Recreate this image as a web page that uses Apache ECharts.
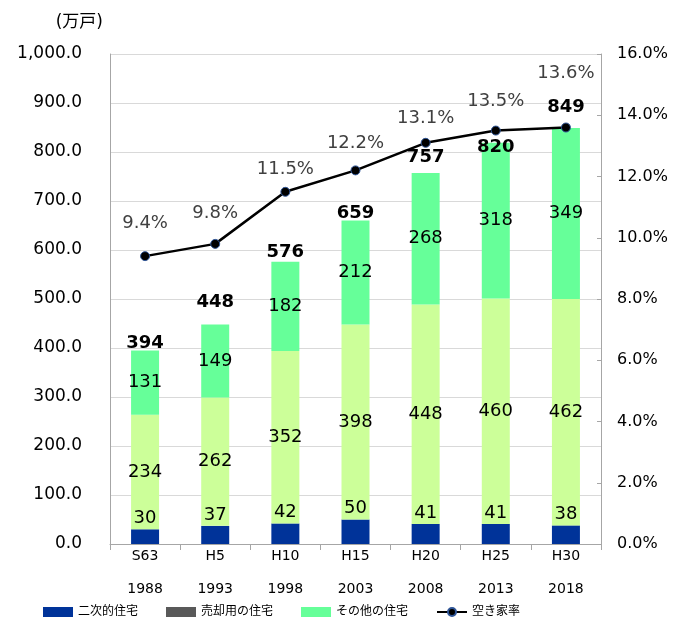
<!DOCTYPE html>
<html>
<head>
<meta charset="utf-8">
<script src="https://cdn.jsdelivr.net/npm/echarts@6/dist/echarts.min.js"></script>
<style>
  html, body { margin: 0; padding: 0; background: #fff; }
  #chart { width: 679px; height: 617px; }
</style>
</head>
<body>
<div id="chart"></div>
<script>
// 年次（和暦 / 西暦）
const eraLabels = ["S63", "H5", "H10", "H15", "H20", "H25", "H30"];
const yearLabels = ["1988", "1993", "1998", "2003", "2008", "2013", "2018"];

// 空き家の内訳（万戸）
const secondHomes = [30, 37, 42, 50, 41, 41, 38];
const rentalHomes = [234, 262, 352, 398, 448, 460, 462];
const saleHomes = [];
const otherHomes = [131, 149, 182, 212, 268, 318, 349];
const totals = [394, 448, 576, 659, 757, 820, 849];

// 空き家率（%）
const vacancyRate = [9.4, 9.8, 11.5, 12.2, 13.1, 13.5, 13.6];

// 軸目盛
const leftTicks = [0, 1000, 100];
const rightTicks = [0, 16, 2];

// ラベル位置の調整（px）
const totalLabelDy = [-8, -22, -9, -8, -16, 5, -21];
const rateLabelDy = [-33, -31, -22, -27, -24, -29, -54];

const FONT = "'DejaVu Sans', 'Noto Sans CJK JP', sans-serif";

const chart = echarts.init(document.getElementById("chart"));

chart.setOption({
    animation: false,
    textStyle: { fontFamily: FONT },
    grid: {
        left: 110,
        right: 78,
        top: 54,
        bottom: 73,
    },
    legend: {
        left: 43,
        top: 606,
        padding: 0,
        itemWidth: 30,
        itemHeight: 10,
        itemGap: 28,
        textStyle: { fontSize: 12, color: "#000", fontFamily: FONT },
        data: [
            { name: "二次的住宅", icon: "rect" },
            { name: "売却用の住宅", icon: "rect" },
            { name: "その他の住宅", icon: "rect" },
            { name: "空き家率" },
        ],
    },
    xAxis: {
        type: "category",
        data: eraLabels,
        axisLine: { lineStyle: { color: "#a6a6a6", width: 1 } },
        axisTick: { show: true, length: 6, lineStyle: { color: "#a6a6a6" } },
        axisLabel: {
            margin: -4,
            fontSize: 14,
            lineHeight: 33,
            color: "#000",
            formatter: function (value, idx) {
                return value + "\n" + yearLabels[idx];
            },
        },
    },
    yAxis: [
        {
            type: "value",
            min: leftTicks[0],
            max: leftTicks[1],
            interval: leftTicks[2],
            name: "(万戸)",
            nameLocation: "end",
            nameGap: 23,
            nameTextStyle: {
                fontSize: 17,
                color: "#000",
                align: "right",
                padding: [0, 7, 0, 0],
            },
            axisLine: { show: true, lineStyle: { color: "#a6a6a6" } },
            axisTick: { show: false },
            splitLine: { lineStyle: { color: "#d9d9d9", width: 1 } },
            axisLabel: {
                margin: 28,
                fontSize: 17,
                color: "#000",
                formatter: function (v) {
                    return v.toLocaleString("en-US", { minimumFractionDigits: 1, maximumFractionDigits: 1 });
                },
            },
        },
        {
            type: "value",
            min: rightTicks[0],
            max: rightTicks[1],
            interval: rightTicks[2],
            position: "right",
            axisLine: { show: true, lineStyle: { color: "#a6a6a6" } },
            axisTick: { show: true, inside: true, length: 4, lineStyle: { color: "#a6a6a6" } },
            splitLine: { show: false },
            axisLabel: {
                margin: 16,
                fontSize: 16,
                color: "#000",
                formatter: function (v) {
                    return v.toFixed(1) + "%";
                },
            },
        },
    ],
    series: [
        {
            name: "二次的住宅",
            type: "bar",
            stack: "akiya",
            barWidth: 28,
            data: secondHomes,
            itemStyle: { color: "#003399" },
            label: {
                show: true,
                position: "top",
                distance: 2,
                fontSize: 18,
                color: "#000",
            },
        },
        {
            name: "賃貸用の住宅",
            type: "bar",
            stack: "akiya",
            data: rentalHomes,
            itemStyle: { color: "#ccff99" },
            label: { show: true, position: "inside", fontSize: 18, color: "#000" },
        },
        {
            name: "売却用の住宅",
            type: "bar",
            stack: "akiya",
            data: saleHomes,
            itemStyle: { color: "#595959" },
        },
        {
            name: "その他の住宅",
            type: "bar",
            stack: "akiya",
            data: otherHomes,
            itemStyle: { color: "#66ff99" },
            label: { show: true, position: "inside", fontSize: 18, color: "#000" },
        },
        {
            name: "合計",
            type: "line",
            symbol: "circle",
            symbolSize: 1,
            itemStyle: { color: "rgba(0,0,0,0)" },
            lineStyle: { opacity: 0 },
            z: 5,
            data: totals.map(function (v, i) {
                return { value: v, label: { offset: [0, totalLabelDy[i]] } };
            }),
            label: {
                show: true,
                position: "inside",
                fontSize: 18,
                fontWeight: "bold",
                color: "#000",
            },
        },
        {
            name: "空き家率",
            type: "line",
            yAxisIndex: 1,
            symbol: "circle",
            symbolSize: 9,
            z: 4,
            lineStyle: { color: "#000", width: 2.5 },
            itemStyle: { color: "#000", borderColor: "#2f5597", borderWidth: 1 },
            data: vacancyRate.map(function (v, i) {
                return { value: v, label: { offset: [0, rateLabelDy[i]] } };
            }),
            label: {
                show: true,
                position: "inside",
                fontSize: 18,
                color: "#404040",
                formatter: function (p) {
                    return p.value.toFixed(1) + "%";
                },
            },
        },
    ],
});
</script>
</body>
</html>
